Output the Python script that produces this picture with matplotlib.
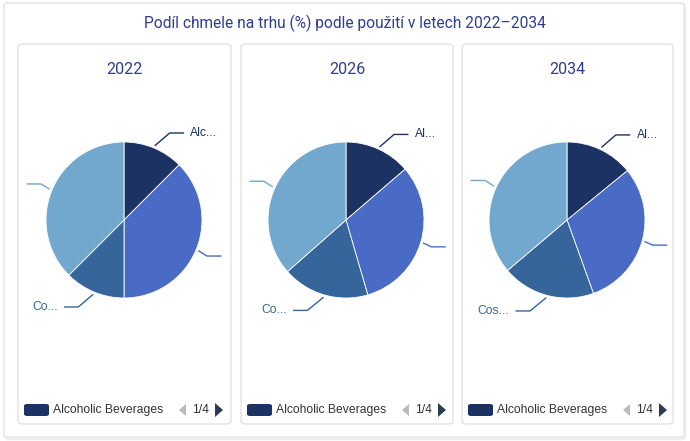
import numpy as np
import matplotlib.pyplot as plt
from matplotlib.patches import FancyBboxPatch, Polygon

plt.rcParams['font.family'] = ['Roboto', 'DejaVu Sans']
SANS = ['Liberation Sans', 'DejaVu Sans']

title = 'Podíl chmele na trhu (%) podle použití v letech 2022–2034'
years = ['2022', '2026', '2034']
categories = ['Alcoholic Beverages', 'Pharmaceuticals', 'Cosmetics & Personal Care', 'Others']
short_2022 = ['Alc...', '', 'Co...', '']
short_2026 = ['Al...', '', 'Co...', '']
short_2034 = ['Al...', '', 'Cos...', '']
short_labels = [short_2022, short_2026, short_2034]
share_2022 = [12.5, 37.5, 12.5, 37.5]
share_2026 = [13.7, 31.8, 18.0, 36.5]
share_2034 = [14.1, 30.4, 19.3, 36.2]
shares = [share_2022, share_2026, share_2034]
colors = ['#1b3263', '#4a6bc5', '#35659a', '#72a8cd']

W, H = 690, 441
fig = plt.figure(figsize=(W / 100, H / 100), dpi=100)
fig.patch.set_facecolor('white')


def box(x0, y0, x1, y1, ec, lw=1.0, r=6, z=-1):
    # coordinates given in pixels from top-left
    p = FancyBboxPatch((x0 / W, 1 - y1 / H), (x1 - x0) / W, (y1 - y0) / H,
                       boxstyle='round,pad=0,rounding_size=%f' % (r / W),
                       transform=fig.transFigure, fc='white', ec=ec, lw=lw, zorder=z)
    fig.patches.append(p)


# outer card with soft shadow
box(5, 4, 685, 439, '#f0f0f0', lw=2.0, r=4, z=-3)
box(4, 3, 684, 437, '#dedede', lw=0.8, r=4, z=-2)
fig.text(345 / W, 1 - 23 / H, title, ha='center', va='center', fontsize=11.2, color='#2e3d8f')

panels = [(18, 231), (241, 453), (462, 673)]
centers = [124, 346, 567]
R = 78
for i, (x0, x1) in enumerate(panels):
    box(x0, 44, x1, 424, '#dcdcdc', lw=0.8, r=5)
    fig.text((x0 + x1) / 2 / W, 1 - 69 / H, years[i], ha='center', va='center',
             fontsize=11.5, color='#2e3d8f')

    cx, cy = centers[i], 220
    half = 105
    ax = fig.add_axes([(cx - half) / W, 1 - (cy + half) / H, 2 * half / W, 2 * half / H])
    lim = half / R
    ax.pie(shares[i], colors=colors, startangle=90, counterclock=False,
           wedgeprops=dict(edgecolor='white', linewidth=0.6))
    ax.set_xlim(-lim, lim)
    ax.set_ylim(-lim, lim)
    ax.set_aspect('equal')
    ax.axis('off')

    # connector lines and truncated labels
    cum = np.cumsum([0] + shares[i])
    total = cum[-1]
    for j in range(len(categories)):
        mid = (cum[j] + cum[j + 1]) / 2 / total * 2 * np.pi
        sx, sy = np.sin(mid), np.cos(mid)
        right = sx > 0
        sgn = 1 if right else -1
        p0 = (1.03 * sx, 1.03 * sy)
        ex = 0.884 * sx + 0.247 * sgn
        ey = 1.207 * sy
        end_x = ex + 0.185 * sgn
        ax.plot([p0[0], ex, end_x], [p0[1], ey, ey], color=colors[j], lw=1.0,
                clip_on=False, solid_capstyle='butt')
        lab = short_labels[i][j]
        if lab:
            ax.text(end_x + 0.08 * sgn, ey, lab, ha='left' if right else 'right',
                    va='center', fontsize=8.7, family=SANS, color=colors[j])

    # legend row
    sw = FancyBboxPatch(((x0 + 6) / W, 1 - 416 / H), 25 / W, 12 / H,
                        boxstyle='round,pad=0,rounding_size=%f' % (3 / W),
                        transform=fig.transFigure, fc=colors[0], ec='none')
    fig.patches.append(sw)
    fig.text((x0 + 35) / W, 1 - 410 / H, categories[0], ha='left', va='center',
             fontsize=8.7, family=SANS, color='#333333')
    ax_x = x0 + 159
    fig.patches.append(Polygon([((ax_x + 9) / W, 1 - 404 / H), ((ax_x + 9) / W, 1 - 416 / H),
                                ((ax_x + 2) / W, 1 - 410 / H)], closed=True,
                               transform=fig.transFigure, fc='#bbbbbb', ec='none'))
    fig.text((ax_x + 15) / W, 1 - 410 / H, '1/4', ha='left', va='center', fontsize=8.7,
             family=SANS, color='#333333')
    fig.patches.append(Polygon([((ax_x + 38) / W, 1 - 403 / H), ((ax_x + 38) / W, 1 - 417 / H),
                                ((ax_x + 46) / W, 1 - 410 / H)], closed=True,
                               transform=fig.transFigure, fc='#2b3d52', ec='none'))

fig.savefig('out.png', dpi=100, facecolor='white')
